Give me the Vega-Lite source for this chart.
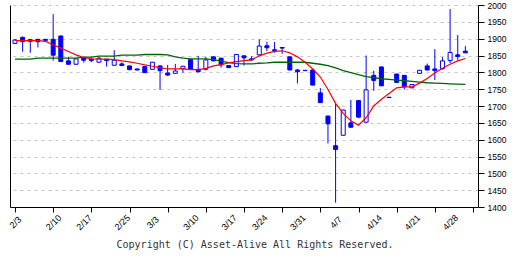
{
  "$schema": "https://vega.github.io/schema/vega-lite/v6.json",
  "width": 468,
  "height": 202,
  "autosize": {"type": "none"},
  "padding": {"left": 10, "top": 5, "right": 34, "bottom": 49},
  "background": "white",
  "config": {"font": "Liberation Sans", "view": {"stroke": null}},
  "title": {"text": "Copyright (C) Asset-Alive All Rights Reserved.", "orient": "bottom", "anchor": "middle", "font": "DejaVu Sans Mono", "fontSize": 10, "fontWeight": "normal", "color": "#333333", "offset": 8, "dx": 11},
  "data": {"values": [
    {"i": 0, "d": "2/3", "o": 1886, "h": 1898, "l": 1884, "c": 1896, "m1": 1894, "m2": 1839},
    {"i": 1, "d": "2/4", "o": 1904, "h": 1906, "l": 1861, "c": 1891, "m1": 1894, "m2": 1839},
    {"i": 2, "d": "2/5", "o": 1897, "h": 1899, "l": 1858, "c": 1892, "m1": 1894, "m2": 1839},
    {"i": 3, "d": "2/6", "o": 1898, "h": 1899, "l": 1874, "c": 1891, "m1": 1894, "m2": 1842},
    {"i": 4, "d": "2/7", "o": 1898, "h": 1899, "l": 1894, "c": 1895, "m1": 1892, "m2": 1842},
    {"i": 5, "d": "2/10", "o": 1898, "h": 1973, "l": 1835, "c": 1851, "m1": 1882, "m2": 1842},
    {"i": 6, "d": "2/12", "o": 1908, "h": 1909, "l": 1831, "c": 1832, "m1": 1872, "m2": 1842},
    {"i": 7, "d": "2/13", "o": 1834, "h": 1846, "l": 1823, "c": 1824, "m1": 1862, "m2": 1842},
    {"i": 8, "d": "2/14", "o": 1824, "h": 1841, "l": 1823, "c": 1840, "m1": 1852, "m2": 1842},
    {"i": 9, "d": "2/17", "o": 1844, "h": 1845, "l": 1829, "c": 1836, "m1": 1844, "m2": 1845},
    {"i": 10, "d": "2/18", "o": 1839, "h": 1844, "l": 1830, "c": 1835, "m1": 1840, "m2": 1845},
    {"i": 11, "d": "2/19", "o": 1830, "h": 1846, "l": 1829, "c": 1842, "m1": 1839, "m2": 1848},
    {"i": 12, "d": "2/20", "o": 1839, "h": 1840, "l": 1817, "c": 1835, "m1": 1839, "m2": 1848},
    {"i": 13, "d": "2/21", "o": 1821, "h": 1866, "l": 1820, "c": 1836, "m1": 1838, "m2": 1848},
    {"i": 14, "d": "2/25", "o": 1825, "h": 1830, "l": 1819, "c": 1820, "m1": 1834, "m2": 1851},
    {"i": 15, "d": "2/26", "o": 1819, "h": 1820, "l": 1806, "c": 1808, "m1": 1831, "m2": 1851},
    {"i": 16, "d": "2/27", "o": 1810, "h": 1811, "l": 1806, "c": 1807, "m1": 1827, "m2": 1851},
    {"i": 17, "d": "2/28", "o": 1817, "h": 1818, "l": 1798, "c": 1799, "m1": 1822, "m2": 1853},
    {"i": 18, "d": "3/3", "o": 1809, "h": 1831, "l": 1808, "c": 1830, "m1": 1818, "m2": 1853},
    {"i": 19, "d": "3/4", "o": 1819, "h": 1820, "l": 1748, "c": 1805, "m1": 1814, "m2": 1853},
    {"i": 20, "d": "3/5", "o": 1798, "h": 1822, "l": 1789, "c": 1792, "m1": 1810, "m2": 1852},
    {"i": 21, "d": "3/6", "o": 1797, "h": 1825, "l": 1796, "c": 1804, "m1": 1810, "m2": 1846},
    {"i": 22, "d": "3/7", "o": 1811, "h": 1819, "l": 1799, "c": 1818, "m1": 1810, "m2": 1842},
    {"i": 23, "d": "3/10", "o": 1838, "h": 1840, "l": 1809, "c": 1810, "m1": 1808, "m2": 1840},
    {"i": 24, "d": "3/11", "o": 1809, "h": 1849, "l": 1799, "c": 1802, "m1": 1808, "m2": 1840},
    {"i": 25, "d": "3/12", "o": 1809, "h": 1846, "l": 1806, "c": 1837, "m1": 1812, "m2": 1840},
    {"i": 26, "d": "3/13", "o": 1846, "h": 1847, "l": 1833, "c": 1834, "m1": 1819, "m2": 1838},
    {"i": 27, "d": "3/14", "o": 1842, "h": 1843, "l": 1814, "c": 1822, "m1": 1823, "m2": 1833},
    {"i": 28, "d": "3/17", "o": 1820, "h": 1821, "l": 1813, "c": 1814, "m1": 1828, "m2": 1829},
    {"i": 29, "d": "3/18", "o": 1817, "h": 1854, "l": 1816, "c": 1853, "m1": 1832, "m2": 1826},
    {"i": 30, "d": "3/19", "o": 1849, "h": 1850, "l": 1820, "c": 1843, "m1": 1835, "m2": 1825},
    {"i": 31, "d": "3/21", "o": 1840, "h": 1848, "l": 1835, "c": 1837, "m1": 1837, "m2": 1825},
    {"i": 32, "d": "3/24", "o": 1852, "h": 1898, "l": 1851, "c": 1878, "m1": 1849, "m2": 1827},
    {"i": 33, "d": "3/25", "o": 1879, "h": 1891, "l": 1863, "c": 1873, "m1": 1857, "m2": 1828},
    {"i": 34, "d": "3/26", "o": 1867, "h": 1890, "l": 1858, "c": 1865, "m1": 1862, "m2": 1830},
    {"i": 35, "d": "3/27", "o": 1874, "h": 1875, "l": 1855, "c": 1872, "m1": 1864, "m2": 1830},
    {"i": 36, "d": "3/28", "o": 1846, "h": 1847, "l": 1806, "c": 1807, "m1": 1858, "m2": 1830},
    {"i": 37, "d": "3/31", "o": 1807, "h": 1810, "l": 1767, "c": 1802, "m1": 1846, "m2": 1830},
    {"i": 38, "d": "4/1", "o": 1806, "h": 1807, "l": 1805, "c": 1805, "m1": 1830, "m2": 1830},
    {"i": 39, "d": "4/2", "o": 1807, "h": 1808, "l": 1762, "c": 1762, "m1": 1810, "m2": 1827},
    {"i": 40, "d": "4/3", "o": 1739, "h": 1753, "l": 1709, "c": 1710, "m1": 1786, "m2": 1824},
    {"i": 41, "d": "4/4", "o": 1670, "h": 1672, "l": 1589, "c": 1647, "m1": 1749, "m2": 1820},
    {"i": 42, "d": "4/7", "o": 1582, "h": 1708, "l": 1413, "c": 1571, "m1": 1708, "m2": 1813},
    {"i": 43, "d": "4/8", "o": 1613, "h": 1689, "l": 1612, "c": 1688, "m1": 1678, "m2": 1805},
    {"i": 44, "d": "4/9", "o": 1650, "h": 1718, "l": 1636, "c": 1637, "m1": 1656, "m2": 1799},
    {"i": 45, "d": "4/10", "o": 1716, "h": 1718, "l": 1664, "c": 1667, "m1": 1643, "m2": 1793},
    {"i": 46, "d": "4/11", "o": 1652, "h": 1850, "l": 1651, "c": 1748, "m1": 1665, "m2": 1787},
    {"i": 47, "d": "4/14", "o": 1791, "h": 1805, "l": 1745, "c": 1776, "m1": 1700, "m2": 1784},
    {"i": 48, "d": "4/15", "o": 1816, "h": 1817, "l": 1759, "c": 1760, "m1": 1720, "m2": 1781},
    {"i": 49, "d": "4/16", "o": 1726, "h": 1727, "l": 1724, "c": 1725, "m1": 1737, "m2": 1779},
    {"i": 50, "d": "4/17", "o": 1795, "h": 1796, "l": 1769, "c": 1770, "m1": 1754, "m2": 1777},
    {"i": 51, "d": "4/18", "o": 1791, "h": 1792, "l": 1749, "c": 1757, "m1": 1757, "m2": 1775},
    {"i": 52, "d": "4/21", "o": 1754, "h": 1765, "l": 1753, "c": 1764, "m1": 1757, "m2": 1773},
    {"i": 53, "d": "4/22", "o": 1797, "h": 1807, "l": 1795, "c": 1806, "m1": 1768, "m2": 1771},
    {"i": 54, "d": "4/23", "o": 1819, "h": 1826, "l": 1805, "c": 1807, "m1": 1782, "m2": 1769},
    {"i": 55, "d": "4/24", "o": 1810, "h": 1869, "l": 1777, "c": 1805, "m1": 1798, "m2": 1768},
    {"i": 56, "d": "4/25", "o": 1811, "h": 1845, "l": 1808, "c": 1834, "m1": 1812, "m2": 1767},
    {"i": 57, "d": "4/28", "o": 1835, "h": 1988, "l": 1827, "c": 1859, "m1": 1824, "m2": 1766},
    {"i": 58, "d": "4/30", "o": 1852, "h": 1911, "l": 1837, "c": 1847, "m1": 1834, "m2": 1765},
    {"i": 59, "d": "5/1", "o": 1863, "h": 1878, "l": 1857, "c": 1858, "m1": 1841, "m2": 1764}
  ]},
  "resolve": {"axis": {"x": "independent", "y": "independent"}},
  "layer": [
    {
      "mark": {"type": "rule", "color": "#0000ff", "strokeWidth": 1},
      "encoding": {
        "x": {"field": "i", "type": "quantitative", "scale": {"domain": [0, 60], "nice": false, "zero": false},
          "axis": {"orient": "bottom", "values": [0, 5, 10, 15, 20, 25, 30, 35, 40, 45, 50, 55, 60], "labels": false, "ticks": true, "tickSize": 5, "tickColor": "#000000", "domain": true, "domainColor": "#000000", "grid": false, "title": null}},
        "y": {"field": "l", "type": "quantitative", "scale": {"domain": [1400, 2000], "nice": false, "zero": false},
          "axis": {"orient": "right", "values": [1400, 1450, 1500, 1550, 1600, 1650, 1700, 1750, 1800, 1850, 1900, 1950, 2000], "format": "d", "grid": true, "gridColor": "#c4c4c4", "gridDash": [3, 4], "gridWidth": 1, "domain": true, "domainColor": "#000000", "tickColor": "#000000", "tickSize": 6, "labelPadding": 3, "labelFontSize": 8.5, "labelColor": "#000000", "labelOverlap": false, "labelFlush": false, "title": null}},
        "y2": {"field": "h"}
      }
    },
    {
      "mark": {"type": "bar", "width": 4, "stroke": "#0000ff", "strokeWidth": 1},
      "encoding": {
        "x": {"field": "i", "type": "quantitative",
          "axis": {"orient": "bottom", "values": [0, 5, 9, 14, 18, 23, 28, 32, 37, 42, 47, 52, 57], "labelExpr": "['2/3','','','','','2/10','','','','2/17','','','','','2/25','','','','3/3','','','','','3/10','','','','','3/17','','','','3/24','','','','','3/31','','','','','4/7','','','','','4/14','','','','','4/21','','','','','4/28'][datum.value]", "ticks": false, "tickSize": 0, "domain": false, "grid": false, "labelAngle": -45, "labelAlign": "center", "labelBaseline": "middle", "labelPadding": 15, "labelFontSize": 9, "labelColor": "#000000", "labelFlush": false, "labelOverlap": false, "title": null}},
        "y": {"field": "o", "type": "quantitative",
          "axis": {"orient": "left", "domain": true, "domainColor": "#000000", "ticks": false, "labels": false, "grid": false, "title": null}},
        "y2": {"field": "c"},
        "fill": {"condition": {"test": "datum.c > datum.o", "value": "#ffffff"}, "value": "#0000ff"}
      }
    },
    {
      "mark": {"type": "line", "color": "#006400", "strokeWidth": 1.3},
      "encoding": {
        "x": {"field": "i", "type": "quantitative", "axis": null},
        "y": {"field": "m2", "type": "quantitative", "axis": null}
      }
    },
    {
      "mark": {"type": "line", "color": "#ff0000", "strokeWidth": 1.2},
      "encoding": {
        "x": {"field": "i", "type": "quantitative", "axis": null},
        "y": {"field": "m1", "type": "quantitative", "axis": null}
      }
    }
  ]
}
